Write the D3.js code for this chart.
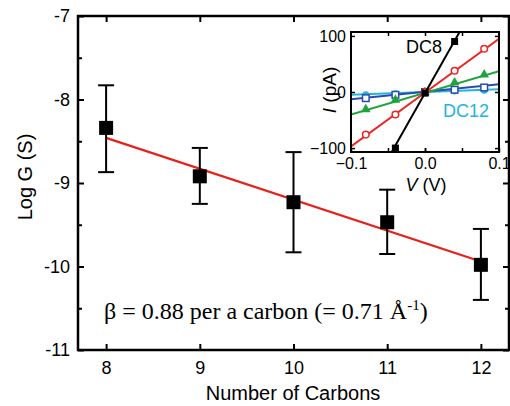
<!DOCTYPE html>
<html><head><meta charset="utf-8">
<script src="https://cdn.jsdelivr.net/npm/d3@7"></script>
<style>body{margin:0;background:#fff}svg{display:block}</style>
</head><body>
<svg id="c" width="510" height="406"></svg>
<script>
// Main chart data
const carbons = [8, 9, 10, 11, 12];
const logG = [-8.34, -8.92, -9.23, -9.47, -9.98];
const errTop = [-7.83, -8.58, -8.63, -9.08, -9.55];
const errBot = [-8.87, -9.25, -9.83, -9.85, -10.40];
const fitX = [8, 12];
const fitY = [-8.46, -9.94];
const xTicks = [8, 9, 10, 11, 12];
const yTicks = [-11, -10, -9, -8, -7];
const yMinorTicks = [-10.5, -9.5, -8.5, -7.5];

// Inset data (I-V curves)
const V = [-0.08, -0.04, 0, 0.04, 0.08];
const I_DC8 = [null, -100, -2, 90, null];
const I_red = [-76, -40, 0, 38, 77];
const I_green = [-31, -14, 0, 17, 31];
const I_blue = [-11, -5, 0, 4, 8];
const I_DC12 = [-5, -3, 0, 2, 3];
const lineV = [-0.1, 0.1];
const lineDC8 = [[-0.045, -107], [0.048, 110]];
const lineRed = [-97, 95];
const lineGreen = [-40, 37];
const lineBlue = [-13, 14];
const lineDC12 = [-5, 5];
const insetXTicks = [-0.1, 0.0, 0.1];
const insetYTicks = [-100, 0, 100];

const SANS = "Liberation Sans, Arial, sans-serif";
const svg = d3.select("#c");
const x = d3.scaleLinear().domain([7.7, 12.3]).range([78, 509]);
const y = d3.scaleLinear().domain([-11, -7]).range([350, 16]);

const g = svg.append("g");
g.append("rect").attr("x", 78).attr("y", 16).attr("width", 431).attr("height", 334)
  .attr("fill", "none").attr("stroke", "#000").attr("stroke-width", 2.5);

const fmt = d => String(d);
const axB = d3.axisBottom(x).tickValues(xTicks).tickSizeInner(-6).tickSizeOuter(0).tickPadding(11).tickFormat(fmt);
const axT = d3.axisTop(x).tickValues(xTicks).tickSizeInner(-6).tickSizeOuter(0).tickFormat("");
const axL = d3.axisLeft(y).tickValues(yTicks).tickSizeInner(-6).tickSizeOuter(0).tickPadding(8).tickFormat(fmt);
const axR = d3.axisRight(y).tickValues(yTicks).tickSizeInner(-6).tickSizeOuter(0).tickFormat("");
const axLm = d3.axisLeft(y).tickValues(yMinorTicks).tickSizeInner(-4).tickSizeOuter(0).tickFormat("");
const axRm = d3.axisRight(y).tickValues(yMinorTicks).tickSizeInner(-4).tickSizeOuter(0).tickFormat("");

function styleAxis(sel) {
  sel.select(".domain").remove();
  sel.selectAll(".tick line").attr("stroke", "#000").attr("stroke-width", 2);
  sel.selectAll(".tick text").attr("font-family", SANS).attr("font-size", 18).attr("fill", "#000");
}
g.append("g").attr("transform", "translate(0,350)").call(axB).call(styleAxis);
g.append("g").attr("transform", "translate(0,16)").call(axT).call(styleAxis);
g.append("g").attr("transform", "translate(78,0)").call(axL).call(styleAxis);
g.append("g").attr("transform", "translate(509,0)").call(axR).call(styleAxis);
g.append("g").attr("transform", "translate(78,0)").call(axLm).call(styleAxis);
g.append("g").attr("transform", "translate(509,0)").call(axRm).call(styleAxis);

// fit line
g.append("line").attr("x1", x(fitX[0])).attr("y1", y(fitY[0])).attr("x2", x(fitX[1])).attr("y2", y(fitY[1]))
  .attr("stroke", "#e8201c").attr("stroke-width", 2.2);

// error bars + points
carbons.forEach((c, i) => {
  const cx = x(c);
  g.append("line").attr("x1", cx).attr("x2", cx).attr("y1", y(errTop[i])).attr("y2", y(errBot[i]))
    .attr("stroke", "#000").attr("stroke-width", 2);
  [errTop[i], errBot[i]].forEach(v => {
    g.append("line").attr("x1", cx - 8).attr("x2", cx + 8).attr("y1", y(v)).attr("y2", y(v))
      .attr("stroke", "#000").attr("stroke-width", 2);
  });
  g.append("rect").attr("x", cx - 7).attr("y", y(logG[i]) - 7).attr("width", 14).attr("height", 14).attr("fill", "#000");
});

// axis titles
svg.append("text").attr("transform", "translate(32,177) rotate(-90)").attr("text-anchor", "middle")
  .attr("font-family", SANS).attr("font-size", 20).text("Log G (S)");
svg.append("text").attr("x", 293).attr("y", 400).attr("text-anchor", "middle")
  .attr("font-family", SANS).attr("font-size", 20).text("Number of Carbons");

// beta annotation
const bt = svg.append("text").attr("x", 104).attr("y", 319)
  .attr("font-family", "Liberation Serif, Times New Roman, serif").attr("font-size", 24);
bt.append("tspan").text("β = 0.88 per a carbon (= 0.71 Å");
bt.append("tspan").attr("font-size", 15).attr("dy", -9).text("-1");
bt.append("tspan").attr("dy", 9).text(")");

// ---------- Inset ----------
const ix = d3.scaleLinear().domain([-0.1, 0.1]).range([351, 499]);
const iy = d3.scaleLinear().domain([-107, 107]).range([152, 32]);
const ig = svg.append("g");
ig.append("rect").attr("x", 351).attr("y", 32).attr("width", 148).attr("height", 120).attr("fill", "#fff");
const clip = svg.append("clipPath").attr("id", "ic");
clip.append("rect").attr("x", 351).attr("y", 32).attr("width", 148).attr("height", 120);
const pg = ig.append("g").attr("clip-path", "url(#ic)");

const series = [
  { vals: I_DC12, line: [[lineV[0], lineDC12[0]], [lineV[1], lineDC12[1]]], color: "#22b4dc", marker: "circleFill" },
  { vals: I_blue, line: [[lineV[0], lineBlue[0]], [lineV[1], lineBlue[1]]], color: "#2a4aae", marker: "squareOpen" },
  { vals: I_green, line: [[lineV[0], lineGreen[0]], [lineV[1], lineGreen[1]]], color: "#1fa33c", marker: "triangle" },
  { vals: I_red, line: [[lineV[0], lineRed[0]], [lineV[1], lineRed[1]]], color: "#ec2424", marker: "circleOpen" },
  { vals: I_DC8, line: lineDC8, color: "#000", marker: "squareFill" }
];
series.forEach(s => {
  pg.append("line").attr("x1", ix(s.line[0][0])).attr("y1", iy(s.line[0][1]))
    .attr("x2", ix(s.line[1][0])).attr("y2", iy(s.line[1][1]))
    .attr("stroke", s.color).attr("stroke-width", 2);
  V.forEach((v, i) => {
    const val = s.vals[i];
    if (val === null) return;
    const px = ix(v), py = iy(val);
    if (s.marker === "circleFill") pg.append("circle").attr("cx", px).attr("cy", py).attr("r", 3.5).attr("fill", s.color);
    else if (s.marker === "circleOpen") pg.append("circle").attr("cx", px).attr("cy", py).attr("r", 3.3).attr("fill", "#fff").attr("stroke", s.color).attr("stroke-width", 1.5);
    else if (s.marker === "squareOpen") pg.append("rect").attr("x", px - 3.3).attr("y", py - 3.3).attr("width", 6.6).attr("height", 6.6).attr("fill", "#fff").attr("stroke", s.color).attr("stroke-width", 1.5);
    else if (s.marker === "squareFill") pg.append("rect").attr("x", px - 3.5).attr("y", py - 3.5).attr("width", 7).attr("height", 7).attr("fill", s.color);
    else if (s.marker === "triangle") pg.append("path").attr("d", d3.symbol().type(d3.symbolTriangle).size(40)()).attr("transform", `translate(${px},${py})`).attr("fill", s.color);
  });
});

ig.append("rect").attr("x", 351).attr("y", 32).attr("width", 148).attr("height", 120)
  .attr("fill", "none").attr("stroke", "#000").attr("stroke-width", 2);

const iaB = d3.axisBottom(ix).tickValues(insetXTicks).tickSizeInner(-4).tickSizeOuter(0).tickPadding(6).tickFormat(d3.format(".1f"));
const iaT = d3.axisTop(ix).tickValues([-0.05, 0, 0.05]).tickSizeInner(-4).tickSizeOuter(0).tickFormat("");
const iaBm = d3.axisBottom(ix).tickValues([-0.05, 0, 0.05]).tickSizeInner(-4).tickSizeOuter(0).tickFormat("");
const iaL = d3.axisLeft(iy).tickValues(insetYTicks).tickSizeInner(-4).tickSizeOuter(0).tickPadding(5).tickFormat(d3.format("d"));
const iaR = d3.axisRight(iy).tickValues(insetYTicks).tickSizeInner(-4).tickSizeOuter(0).tickFormat("");
function styleInset(sel) {
  sel.select(".domain").remove();
  sel.selectAll(".tick line").attr("stroke", "#000").attr("stroke-width", 1.5);
  sel.selectAll(".tick text").attr("font-family", SANS).attr("font-size", 16).attr("fill", "#000");
}
ig.append("g").attr("transform", "translate(0,152)").call(iaB).call(styleInset);
ig.append("g").attr("transform", "translate(0,152)").call(iaBm).call(styleInset);
ig.append("g").attr("transform", "translate(0,32)").call(iaT).call(styleInset);
ig.append("g").attr("transform", "translate(351,0)").call(iaL).call(styleInset);
ig.append("g").attr("transform", "translate(499,0)").call(iaR).call(styleInset);

const vt = ig.append("text").attr("x", 426).attr("y", 191).attr("text-anchor", "middle")
  .attr("font-family", SANS).attr("font-size", 18);
vt.append("tspan").attr("font-style", "italic").text("V");
vt.append("tspan").text(" (V)");
const it = ig.append("text").attr("transform", "translate(336,90) rotate(-90)").attr("text-anchor", "middle")
  .attr("font-family", SANS).attr("font-size", 19);
it.append("tspan").attr("font-style", "italic").text("I");
it.append("tspan").text(" (pA)");

ig.append("text").attr("x", 406).attr("y", 53).attr("font-family", SANS)
  .attr("font-size", 18).attr("fill", "#000").text("DC8");
ig.append("text").attr("x", 443).attr("y", 117).attr("font-family", SANS)
  .attr("font-size", 18).attr("fill", "#22b4dc").text("DC12");
</script>
</body></html>
